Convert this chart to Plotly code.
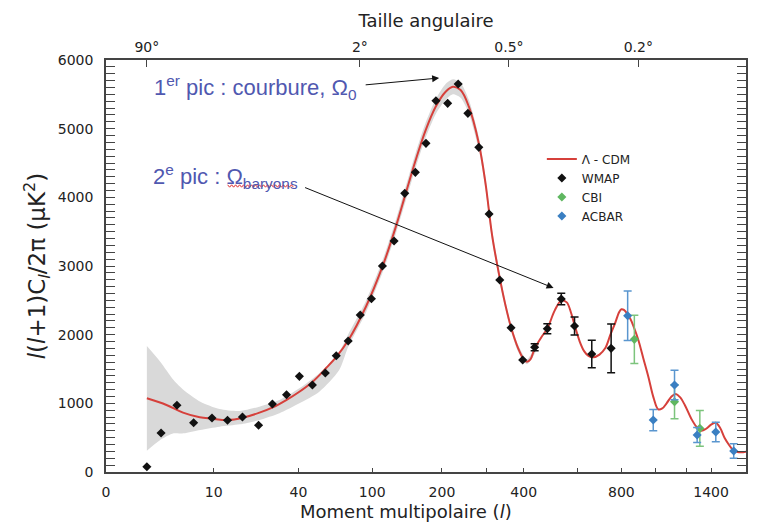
import numpy as np
import plotly.graph_objects as go

# ---- custom multipole scale (l -> axis units) ----
SCALE_L = [0, 2, 10, 40, 100, 200, 300, 400, 600, 800, 1000, 1200, 1400, 1650]
SCALE_U = [0, 41, 108, 193, 267, 337, 382, 419, 473, 517, 551, 582, 607, 642]

X_TICKS = [0, 10, 40, 100, 200, 400, 800, 1400]
X_MINOR = [300, 600, 1000, 1200]
TOP_DEG = [90, 2, 0.5, 0.2]
TOP_TEXT = ["90°", "2°", "0.5°", "0.2°"]
Y_TICKS = [0, 1000, 2000, 3000, 4000, 5000, 6000]

# ---- Lambda-CDM model curve ----
cdm_l = [2, 4.35, 6.33, 8.33, 9.76, 15, 20.3, 26.2, 30.9, 35.7, 40.8, 51.6, 62.4, 71,
         80.7, 94.9, 114.7, 133.9, 148.1, 162.4, 176.7, 191, 208.2, 224.4, 241.6, 260,
         282.2, 297.1, 314.3, 332.4, 350.5, 366, 385, 400, 412, 425, 440, 465, 488,
         515, 540, 560, 575, 589, 610, 630, 650, 672, 700, 726, 750, 771, 790, 800,
         815, 851, 875, 900, 930, 959, 990, 1019, 1045, 1073, 1105, 1133, 1160, 1191,
         1240, 1282, 1322, 1360, 1400, 1433, 1465, 1498, 1530, 1557, 1590, 1616, 1650]
cdm_v = [1073, 976, 864, 796, 777, 757, 791, 864, 942, 1048, 1169, 1315, 1510, 1679,
         1922, 2407, 2990, 3572, 4058, 4544, 4980, 5320, 5538, 5611, 5563, 5320,
         4786, 4204, 3450, 2900, 2430, 2100, 1800, 1640, 1605, 1640, 1790, 1960, 2090,
         2350, 2500, 2470, 2330, 2140, 1900, 1760, 1690, 1670, 1710, 1801, 2000, 2165,
         2330, 2370, 2360, 2238, 2100, 1922, 1650, 1388, 1080, 913, 925, 1000, 1100,
         1136, 1090, 976, 780, 660, 601, 630, 690, 718, 640, 491, 390, 320, 290, 287, 296]

# ---- cosmic-variance band ----
band_l = [2, 3.6, 5.2, 6.4, 8.4, 12.1, 19.2, 26.2, 33.3, 40.8, 57, 73.2, 80.7, 94.9,
          114.7, 133.9, 148.1, 162.4, 176.7, 191, 208.2, 224.4, 241.6, 260, 282.2,
          297.1, 314.3, 332.4, 350.5, 366, 385, 412, 455.6]
band_hi = [1835, 1607, 1340, 1194, 1024, 917, 888, 951, 1048, 1218, 1437, 1752, 2010,
           2490, 3080, 3670, 4160, 4650, 5090, 5430, 5650, 5720, 5670, 5420, 4880,
           4290, 3530, 2970, 2490, 2150, 1850, 1640, 1900]
band_lo = [310, 466, 563, 563, 612, 660, 694, 757, 855, 1000, 1169, 1485, 1830, 2320,
           2900, 3470, 3950, 4430, 4870, 5210, 5420, 5500, 5450, 5220, 4690, 4120,
           3370, 2830, 2370, 2050, 1750, 1570, 1840]

# ---- WMAP ----
wmap_l = [2, 3.7, 5.6, 7.6, 9.8, 14.9, 20.2, 25.9, 30.8, 35.8, 40.8, 51.4, 61.9, 70.8,
          80.5, 90.3, 99.4, 114.7, 131.4, 146.7, 161.9, 177.1, 191.4, 212.7, 236.2,
          257.8, 282.2, 306.2, 335.1, 365.7, 397.3, 440.7, 487.8, 539.6, 588.9, 665, 753.2]
wmap_v = [77, 568, 971, 718, 786, 753, 801, 680, 990, 1126, 1393, 1267, 1442, 1694,
          1908, 2286, 2524, 3000, 3364, 4058, 4364, 4786, 5407, 5369, 5650,
          5223, 4728, 3757, 2796, 2101, 1631, 1816, 2087, 2519, 2126, 1718, 1801]
wmap_err = [0] * 31 + [50, 73, 85, 130, 200, 355]

# ---- CBI ----
cbi_l = [876.5, 1124.5, 1309.6]
cbi_v = [1932, 1024, 636]
cbi_err = [352, 248, 260]

# ---- ACBAR ----
acbar_l = [837, 988, 1124.5, 1288, 1433.6, 1562]
acbar_v = [2276, 757, 1267, 539, 582, 306]
acbar_err = [360, 155, 214, 109, 141, 104]


def lx(l):
    return np.interp(np.asarray(l, dtype=float), SCALE_L, SCALE_U)


FONT = "DejaVu Sans"
INK = "#222222"
AXC = "#444444"

fig = go.Figure()

fig.add_trace(go.Scatter(
    x=lx(band_l + band_l[::-1]), y=band_hi + band_lo[::-1],
    fill="toself", fillcolor="#d9d9d9", mode="lines",
    line=dict(width=0, shape="spline", smoothing=0.7),
    hoverinfo="skip", showlegend=False))

fig.add_trace(go.Scatter(
    x=lx(cdm_l), y=cdm_v, mode="lines", name="Λ - CDM",
    line=dict(color="#d6403b", width=2, shape="spline", smoothing=1.0)))

werr = np.array(wmap_err, dtype=float)
wl = np.array(wmap_l)
wv = np.array(wmap_v)
m = werr > 0
fig.add_trace(go.Scatter(
    x=lx(wl[~m]), y=wv[~m], mode="markers", legendgroup="wmap", showlegend=False,
    marker=dict(symbol="diamond", size=7, color="#111111")))
fig.add_trace(go.Scatter(
    x=lx(wl[m]), y=wv[m], mode="markers", name="WMAP", legendgroup="wmap",
    marker=dict(symbol="diamond", size=7, color="#111111"),
    error_y=dict(type="data", array=werr[m], color="#111111", thickness=1.5, width=4)))

fig.add_trace(go.Scatter(
    x=lx(cbi_l), y=cbi_v, mode="markers", name="CBI",
    marker=dict(symbol="diamond", size=7, color="#5fb760"),
    error_y=dict(type="data", array=cbi_err, color="#7cc47c", thickness=1.5, width=4)))

fig.add_trace(go.Scatter(
    x=lx(acbar_l), y=acbar_v, mode="markers", name="ACBAR",
    marker=dict(symbol="diamond", size=7, color="#3a7fc2"),
    error_y=dict(type="data", array=acbar_err, color="#5a96cf", thickness=1.5, width=4)))

# carrier trace so the top (angular-scale) axis is drawn
fig.add_trace(go.Scatter(x=lx([2]), y=[None], xaxis="x2", mode="markers",
                         showlegend=False, hoverinfo="skip"))

# annotations (text + arrows)
ANN = "#5058b0"
fig.add_annotation(x=46, y=5600, xref="x", yref="y", xanchor="left", yanchor="middle",
                   text="1<sup>er</sup> pic : courbure, Ω<sub>0</sub>", showarrow=False,
                   font=dict(family="Liberation Sans", size=22, color=ANN))
fig.add_annotation(x=45, y=4310, xref="x", yref="y", xanchor="left", yanchor="middle",
                   text="2<sup>e</sup> pic : Ω<sub>baryons</sub>", showarrow=False,
                   font=dict(family="Liberation Sans", size=22, color=ANN))
fig.add_annotation(x=float(lx(196)), y=5738, xref="x", yref="y", text="",
                   showarrow=True, arrowhead=2, arrowsize=1.4, arrowwidth=1,
                   arrowcolor="#111111", ax=-75, ay=7)
fig.add_annotation(x=float(lx(511)), y=2680, xref="x", yref="y", text="",
                   showarrow=True, arrowhead=2, arrowsize=1.4, arrowwidth=1,
                   arrowcolor="#111111", ax=-250, ay=-101)

# bottom axis title (sits slightly left of the plot centre in the reference)
fig.add_annotation(x=0.469, y=-0.097, xref="paper", yref="paper",
                   xanchor="center", yanchor="middle", showarrow=False,
                   text="Moment multipolaire (<i>l</i>)",
                   font=dict(family=FONT, size=18, color=INK))

# red wavy spell-check underline under "baryons"
def px2u(px):
    return px - 106.0

def py2v(py):
    return (472.0 - py) * 6000.0 / 412.0

xs = np.arange(228, 296, 2)
pts = [(px2u(x), py2v(186 + (1.2 if i % 2 else -1.2))) for i, x in enumerate(xs)]
path = "M " + " L ".join(f"{a:.2f},{b:.2f}" for a, b in pts)
fig.add_shape(type="path", path=path, xref="x", yref="y",
              line=dict(color="#e03030", width=1))

fig.update_layout(
    width=760, height=528,
    margin=dict(l=106, r=12, t=60, b=56),
    paper_bgcolor="white", plot_bgcolor="white",
    font=dict(family=FONT, size=14, color=INK),
    legend=dict(x=0.681, y=0.795, xanchor="left", yanchor="top",
                font=dict(family=FONT, size=12, color=INK),
                bgcolor="rgba(0,0,0,0)", itemwidth=30, tracegroupgap=0),
    xaxis=dict(range=[0, 642], tickmode="array", tickvals=lx(X_TICKS),
               ticktext=[str(t) for t in X_TICKS], ticks="inside", ticklen=4,
               tickcolor=AXC, tickwidth=1.2, showline=True, linecolor=AXC,
               linewidth=1.5, mirror=True, showgrid=False, zeroline=False,
               ticklabelstandoff=6,
               minor=dict(tickmode="array", tickvals=lx(X_MINOR), ticks="inside",
                          ticklen=4, tickcolor=AXC)),
    xaxis2=dict(overlaying="x", side="top", range=[0, 642], tickmode="array",
                tickvals=lx([180.0 / d for d in TOP_DEG]), ticktext=TOP_TEXT,
                ticks="inside", ticklen=7, tickcolor=AXC, tickwidth=1.2,
                showline=False, showgrid=False, zeroline=False,
                ticklabelstandoff=4,
                title=dict(text="Taille angulaire", font=dict(size=18), standoff=6)),
    yaxis=dict(range=[0, 6000], tickmode="array", tickvals=Y_TICKS,
               ticks="inside", ticklen=9, tickcolor=AXC, tickwidth=1.2,
               showline=True, linecolor=AXC, linewidth=1.5, mirror="allticks",
               showgrid=False, zeroline=False, ticklabelstandoff=8,
               minor=dict(dtick=100, ticks="inside", ticklen=5, tickcolor=AXC),
               title=dict(text="<i>l</i>(<i>l</i>+1)C<sub><i>l</i></sub>/2π (μK<sup>2</sup>)",
                          font=dict(size=23), standoff=6)),
)

fig.write_html("out.html")
